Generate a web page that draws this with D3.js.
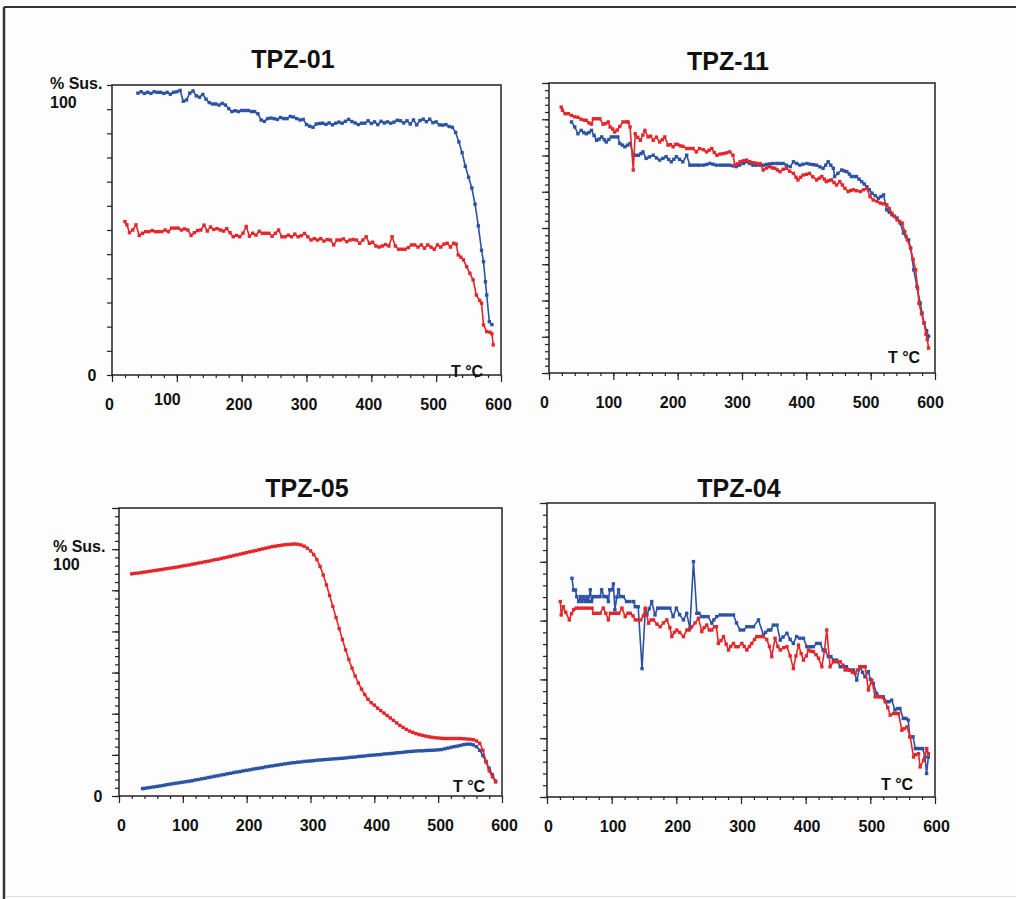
<!DOCTYPE html>
<meta charset="UTF-8">
<html>
<head>
<script src="https://d3js.org/d3.v7.min.js"></script>
<style>
  body { margin: 0; background: #fff; }
  svg text { font-family: "Liberation Sans", Arial, sans-serif; font-weight: bold; fill: #111; }
</style>
</head>
<body>
<svg id="chart" width="1016" height="899"></svg>
<script>
// ---- data: [T in °C, susceptibility] ----
var tempTicks = [0, 100, 200, 300, 400, 500, 600];
var panelTitles = ["TPZ-01", "TPZ-11", "TPZ-05", "TPZ-04"];

var tpz01Blue = [[40,104],[45,104.5],[50,103.9],[55,104.3],[60,103.9],[65,104.5],[70,104.3],[75,104.3],[80,103.9],[85,104.3],[90,103.6],[95,104.3],[100,104.5],[105,105],[110,101],[115,101.5],[120,104],[125,104.8],[130,103],[135,102.5],[140,103.5],[145,101.8],[150,100.5],[155,100],[160,100],[165,99.6],[170,100.2],[175,99.6],[180,98.3],[185,97.2],[190,97.5],[195,97.2],[200,97.6],[205,97.6],[210,97.6],[215,97.2],[220,97.2],[225,96.4],[230,94.1],[235,93.6],[240,94.6],[245,94.8],[250,94.6],[255,94.3],[260,95],[265,94.6],[270,94.6],[275,95.4],[280,95.2],[285,94.6],[290,94.1],[295,94.3],[300,92.4],[305,91.8],[310,91.4],[315,92.6],[320,92.8],[325,92.9],[330,92.5],[335,93],[340,92.3],[345,92.9],[350,93.3],[355,92.9],[360,93.6],[365,94.3],[370,93.5],[375,93],[380,92.4],[385,92.9],[390,92.9],[395,93.8],[400,92.8],[405,93.4],[410,92.4],[415,93.6],[420,93],[425,93.4],[430,92.9],[435,93.3],[440,94],[445,93.8],[450,93],[455,93.8],[460,92.6],[465,94.1],[470,92.3],[475,93.9],[480,94.4],[485,93.5],[490,94.4],[495,93.1],[500,93.4],[505,92.3],[510,92.2],[515,92.4],[520,91.7],[525,91.4],[530,89.5],[535,86],[540,82],[545,77],[550,73],[555,69],[560,63],[565,55],[570,46],[573,41.8],[576,34.4],[578,29.5],[582,19.7],[586,18.6]];
var tpz01Red = [[20,56.6],[23,55.4],[27,52.5],[32,53.5],[37,55.4],[42,51.5],[47,52.3],[52,52.9],[57,52.9],[62,53.3],[67,52.9],[72,52.9],[77,52.9],[82,53.5],[87,52.9],[92,54.2],[97,54.2],[102,54.2],[107,53.5],[112,53.9],[117,53.5],[122,51.5],[127,52.5],[132,53.3],[137,53.5],[142,55.3],[147,53.1],[152,54.6],[157,53.7],[162,54],[167,53.5],[172,53.1],[177,54],[182,52.5],[187,51],[192,51.5],[197,51],[202,52.3],[207,54.8],[212,51.2],[217,52.3],[222,51.6],[227,53],[232,52.3],[237,52.3],[242,52.3],[247,51.2],[252,52.3],[257,53.5],[262,51],[267,51],[272,51.6],[277,51],[282,52],[287,51],[292,51.4],[297,52.2],[302,51],[307,49.8],[312,50.3],[317,49.8],[322,50.3],[327,49.4],[332,50],[337,49.8],[342,48],[347,49.8],[352,49.8],[357,50.2],[362,49.2],[367,49.8],[372,50],[377,49.8],[382,48.6],[387,49.8],[392,51],[397,48.6],[402,49],[407,47.6],[412,47.2],[417,47.6],[422,48.1],[427,47.6],[432,51],[437,47.6],[442,46.4],[447,46.4],[452,46.4],[457,47],[462,48],[467,48],[472,47.2],[477,48],[482,46.8],[487,48],[492,47.2],[497,46.4],[502,48],[507,47.2],[512,48.3],[517,48.6],[522,47.2],[527,48.6],[531,48.3],[534,44.3],[538,43.5],[542,42.5],[547,40],[552,37.5],[557,35.1],[562,29.5],[567,27.5],[570,26.5],[573,18.5],[578,16],[583,15.8],[586,15.2],[588,11.1]];

var tpz11Blue = [[35,103.9],[40,101.8],[45,99],[50,100.4],[54,99.5],[58,99],[62,99.5],[66,100.4],[70,98.3],[74,96.3],[78,96.8],[82,97.7],[86,96.5],[89,95.6],[93,96.6],[97,97.7],[102,97.7],[107,97.7],[110,95],[114,94.3],[118,93.6],[122,94.3],[126,95],[131,90.1],[135,90.1],[139,90.1],[143,90.8],[146,91.5],[151,88.8],[156,89.4],[162,90.1],[167,89],[172,88.1],[177,88.8],[182,89.5],[186,88.4],[190,87.4],[194,88.4],[198,89.5],[203,88.4],[208,87.4],[214,90.1],[219,86],[224,86],[229,86],[234,86],[240,86],[245,86.3],[250,86.7],[255,86.4],[260,86],[266,86],[271,86],[276,86],[281,86],[286,85.7],[291,85.4],[296,86],[302,86.7],[307,87.4],[312,86.7],[317,86],[322,86],[328,86],[333,86],[338,86.3],[343,86.5],[348,86.7],[354,86.7],[359,86.7],[364,86.7],[369,86],[375,85.4],[380,87.4],[385,86.7],[390,86],[395,86.4],[401,86.7],[406,86.4],[411,86.2],[416,86],[421,85.3],[426,84.7],[430,86],[434,87.4],[438,86],[442,84.7],[444,81.3],[449,82.6],[455,84],[459,83.6],[463,83.3],[467,82.3],[470,81.3],[474,81.3],[478,81.3],[482,80.2],[486,79.2],[490,78.2],[494,77.1],[498,75.8],[502,74.4],[507,73.4],[512,72.3],[516,73],[520,73.7],[525,67.5],[529,66.5],[533,65.5],[537,64.8],[541,64.1],[546,62],[551,57.9],[555,56.5],[559,55.1],[562,51.7],[567,42.7],[572,35.8],[577,28.9],[580,24.8],[583,20.7],[587,17.5],[590,15.2]];
var tpz11Red = [[19,110],[21,108.7],[25,107.3],[30,107.3],[35,106.6],[40,106],[45,105.8],[50,105],[55,104.6],[58,104.5],[62,103.5],[66,103],[69,105.2],[74,105.2],[79,105.2],[84,103],[88,103.2],[92,103.9],[95,101.8],[99,101],[102,99.7],[106,100.5],[110,102],[115,103.9],[120,103.9],[123,103.9],[126,101.8],[131,84],[134,99],[138,97.5],[142,96.3],[146,98.5],[149,100.4],[154,97.7],[158,98],[162,96.3],[167,97.6],[172,95.6],[176,96.5],[180,97.7],[185,94.3],[189,94.5],[193,93.6],[197,94.6],[200,94.6],[204,94],[208,93.8],[214,92.9],[219,92.9],[224,92.9],[229,91.5],[234,92.9],[240,92.4],[245,91.5],[249,92.2],[253,92.9],[257,91.2],[261,90.1],[266,90.6],[271,90.8],[276,91.1],[281,91.5],[286,90.1],[289,86],[293,86.5],[297,87.4],[302,87.8],[307,88.1],[312,87.5],[317,87],[322,86.8],[328,86.7],[333,84],[338,84.8],[343,85.4],[347,84.9],[351,84.7],[355,84],[359,83.3],[364,84.3],[369,84.7],[374,83.5],[380,82.6],[384,81],[387,79.9],[391,81],[395,81.9],[400,82.2],[405,82.6],[410,81.2],[416,79.9],[420,80.6],[424,81.3],[428,80.2],[431,79.2],[435,79.6],[439,79.9],[443,78.8],[447,77.8],[452,79.2],[456,77.8],[460,76.4],[465,75.1],[469,75.5],[473,75.8],[478,75.4],[484,75.1],[489,75.8],[494,76.4],[499,73],[504,71.6],[510,71],[515,70.3],[520,70],[525,69.6],[529,68],[533,66.1],[537,64.8],[541,63.4],[545,62.7],[549,62],[553,58.5],[557,55.1],[562,51.7],[566,47],[570,42.7],[573,35],[575,28.9],[579,24.5],[583,20.7],[586,16],[588,13.8],[590,10.3]];

var tpz05Blue = [[37,3.0],[40,3.1],[45,3.3],[50,3.5],[55,3.7],[60,3.9],[65,4.1],[70,4.3],[75,4.6],[80,4.8],[85,5.0],[90,5.2],[95,5.4],[100,5.6],[105,5.8],[110,6.0],[115,6.2],[120,6.5],[125,6.7],[130,7.0],[135,7.2],[140,7.5],[145,7.7],[150,8.0],[155,8.2],[160,8.5],[165,8.7],[170,9.0],[175,9.2],[180,9.5],[185,9.7],[190,9.9],[195,10.2],[200,10.4],[205,10.6],[210,10.9],[215,11.1],[220,11.3],[225,11.5],[230,11.8],[235,12.0],[240,12.2],[245,12.4],[250,12.6],[255,12.8],[260,13.0],[265,13.2],[270,13.4],[275,13.5],[280,13.7],[285,13.8],[290,14.0],[295,14.1],[300,14.2],[305,14.3],[310,14.5],[315,14.6],[320,14.7],[325,14.8],[330,14.9],[335,15.0],[340,15.1],[345,15.2],[350,15.3],[355,15.4],[360,15.6],[365,15.7],[370,15.8],[375,16.0],[380,16.1],[385,16.2],[390,16.4],[395,16.5],[400,16.6],[405,16.7],[410,16.8],[415,17.0],[420,17.1],[425,17.2],[430,17.3],[435,17.5],[440,17.6],[445,17.7],[450,17.9],[455,18.0],[460,18.1],[465,18.2],[470,18.3],[475,18.3],[480,18.4],[485,18.5],[490,18.5],[495,18.6],[500,18.7],[505,18.8],[510,19.1],[515,19.4],[520,19.7],[525,20.0],[530,20.2],[535,20.5],[540,20.8],[545,21.0],[550,21.0],[555,20.7],[560,20.0],[565,18.5],[570,16.4],[575,13.8],[580,11.2],[585,8.6],[590,6.0]];
var tpz05Red = [[20,90.0],[25,90.2],[30,90.3],[35,90.5],[40,90.7],[45,90.9],[50,91.1],[55,91.3],[60,91.5],[65,91.7],[70,91.9],[75,92.1],[80,92.3],[85,92.5],[90,92.7],[95,92.9],[100,93.2],[105,93.4],[110,93.6],[115,93.9],[120,94.1],[125,94.4],[130,94.6],[135,94.9],[140,95.1],[145,95.4],[150,95.7],[155,95.9],[160,96.2],[165,96.5],[170,96.8],[175,97.1],[180,97.4],[185,97.7],[190,98.0],[195,98.3],[200,98.6],[205,98.9],[210,99.2],[215,99.5],[220,99.8],[225,100.1],[230,100.4],[235,100.7],[240,101.0],[245,101.2],[250,101.4],[255,101.6],[260,101.8],[265,101.9],[270,102.0],[275,102.1],[280,102.0],[285,101.7],[290,101.2],[295,100.4],[300,99.3],[305,97.8],[310,95.8],[315,93.0],[320,89.5],[325,85.5],[330,81.2],[335,76.8],[340,72.3],[345,67.8],[350,63.4],[355,59.2],[360,55.3],[365,51.8],[370,48.6],[375,45.8],[380,43.3],[385,41.1],[390,39.2],[395,37.8],[400,36.8],[405,35.6],[410,34.6],[415,33.6],[420,32.6],[425,31.6],[430,30.6],[435,29.6],[440,28.6],[445,27.8],[450,27.0],[455,26.3],[460,25.8],[465,25.3],[470,24.9],[475,24.6],[480,24.3],[485,24.0],[490,23.8],[495,23.6],[500,23.5],[505,23.4],[510,23.3],[515,23.3],[520,23.3],[525,23.3],[530,23.3],[535,23.3],[540,23.2],[545,23.1],[550,23.0],[555,22.8],[560,22.3],[565,21.3],[570,18.5],[575,14.0],[580,10.2],[585,7.8],[590,5.7]];

var tpz04Blue = [[38.6,93],[41,88],[44,88],[46,85.2],[49,83.1],[52,85.2],[54,83.1],[57,85.2],[59,83.1],[62,85.2],[64,83.1],[67,88.1],[69,83.1],[72,85.2],[75,85.2],[79,85.2],[82,85.2],[84.5,88.1],[88,85.2],[92,85.2],[95,83.1],[97,88.1],[100,88.1],[102.6,90.6],[105,79.6],[108,85],[110.7,88.1],[113,85.2],[118,85.2],[123,83.1],[128,83.1],[134,83.1],[136.5,80.9],[141,80.9],[147,54.6],[152,79.6],[154.5,77.4],[158,80],[162,83.1],[167,77.4],[171,80.3],[175,80.3],[180,80.3],[185,80.3],[190,80.3],[195,76.7],[200,80.3],[205,77.5],[211,75.3],[216,78.1],[221,71.7],[226.5,100.1],[231.7,78.1],[235,78.1],[239.4,76.7],[244,76.7],[249,76.7],[254.8,73.9],[258,75.3],[262.5,76.7],[267.8,77.4],[273,77.4],[278,77.4],[283,77.4],[288.4,77.4],[293,74],[298.7,71],[304,71],[309,72.4],[314,72.4],[319.2,72.4],[327,75.3],[334.7,68.9],[338,70],[342.4,71],[346,71],[350,73.1],[355.6,73.1],[360.7,66.7],[365,68],[371,69.6],[376,67],[381,65.3],[386,68.2],[391,67.5],[396.6,67.5],[401.8,63.9],[407,63.9],[412,63.9],[417,65.3],[422.3,65.3],[427,62.5],[430,62.5],[435,59.7],[439,59.7],[443,58.2],[448,58.2],[453.4,55.4],[458,55.4],[463,55.4],[468,54],[473.7,54],[479,49.7],[484,55.4],[488,53],[491.7,51.1],[497,53.3],[500,50],[504.6,48.3],[509.8,44],[515,42.6],[520,42.6],[525.3,40.5],[529,40.5],[533,41.2],[538,37],[542,37.6],[545.8,37.6],[551,33.4],[555,33.4],[558.6,32.7],[561,25.6],[566,25.6],[569.6,20.6],[573,20.6],[576.8,20.6],[581,20.6],[584.5,17],[587,10],[589.7,17]];
var tpz04Red = [[20.6,83.1],[22,77.4],[25.2,80.9],[29,78.5],[34.5,75.3],[38,78],[41.2,79.6],[45,80.3],[49,80.3],[54,80.3],[59,80.3],[64,80.3],[69.5,80.3],[72,78.1],[77,78.1],[82,78.1],[87,80.3],[91,78.1],[94.8,75.3],[98,78.1],[102.6,78.1],[107,78.1],[111,78.1],[115.9,80.3],[121,76.7],[125,78.1],[128.8,78.1],[133,77],[136.5,75.3],[141,75.3],[145,75.3],[149,77],[152,80.3],[157,73.9],[161,75.3],[164.7,75.3],[170,73.5],[175,72.4],[180,74],[185.3,75.3],[190,72],[193,68.2],[197,70],[200.7,71],[205,70],[211,68.2],[216.3,71],[220,71],[223.9,72.4],[229,74],[234.2,76],[239.4,70.3],[243,72],[247,73.1],[251,71],[254.8,71],[259,72.4],[262,72.4],[265,65.3],[269,66.5],[273,68.2],[277,65],[280.7,62.5],[284,64],[288.4,65.3],[292,63.9],[296,63.9],[301.3,65.3],[305,64],[309,62.5],[313,64],[316.6,65.3],[321,67],[324.4,68.2],[329,68.2],[334,68.2],[339.8,67],[344,64],[347.5,59.7],[352.7,67.5],[357,64],[360.7,62.5],[366,63.5],[371,63.9],[376,60],[381,54.6],[385,60],[389,64.6],[393,61],[396.6,58.2],[401,60],[404.4,62.5],[408,62],[412,61.8],[416,60.5],[420,59],[425,55.4],[429,62],[432.6,71],[437.8,55.4],[443,57.5],[448,57.5],[453.4,57.5],[458,56],[461,54],[465,54],[468.8,54],[472,53],[476.5,52.6],[480,54],[484.3,55.4],[488,55.4],[492,55.4],[497,45.5],[502.3,49.7],[507.5,42.6],[512,42.6],[517.8,42.6],[523,40.5],[527,38],[530.7,34.8],[535.8,35.5],[540,35.5],[543.6,35.5],[548.7,28.4],[552,29],[556.5,29.8],[561.7,25.6],[566.8,17],[570,18],[574.5,18.4],[577,12.8],[582.2,15.6],[587.3,20.6],[589.7,18.4]];

var blueColor = "#2c52a3";
var redColor = "#e4262b";

// ---- layout of the four panels ----
var panels = [
  { title: panelTitles[0], blue: tpz01Blue, red: tpz01Red,
    left: 112, right: 501, top: 85, bottom: 375, yMax: 107, yStep: 107 / 12, yMinor: 0,
    titleX: 293, titleY: 68, labelDx: -3, tcX: 451, tcY: 377, smooth: false,
    susLabel: { x: 50, susY: 89, hundredY: 108, zeroX: 92, zeroY: 381 } },
  { title: panelTitles[1], blue: tpz11Blue, red: tpz11Red,
    left: 549, right: 935, top: 83, bottom: 373, yMax: 120, yStep: 15, yMinor: 3,
    titleX: 728, titleY: 70, labelDx: -5, tcX: 888, tcY: 363, smooth: false },
  { title: panelTitles[2], blue: tpz05Blue, red: tpz05Red,
    left: 119, right: 502, top: 508, bottom: 796, yMax: 700 / 6, yStep: 100 / 6, yMinor: 100 / 30,
    titleX: 307, titleY: 497, labelDx: 2, tcX: 453, tcY: 792, smooth: true,
    susLabel: { x: 53, susY: 552, hundredY: 570, zeroX: 98, zeroY: 802 } },
  { title: panelTitles[3], blue: tpz04Blue, red: tpz04Red,
    left: 547, right: 935, top: 503, bottom: 797, yMax: 125, yStep: 25, yMinor: 5,
    titleX: 739, titleY: 497, labelDx: 1, tcX: 881, tcY: 790, smooth: false }
];

var svg = d3.select("#chart");

svg.append("rect").attr("width", 1016).attr("height", 899).attr("fill", "#fdfdfd");
// outer figure frame
svg.append("line").attr("x1", 4).attr("x2", 1016).attr("y1", 7).attr("y2", 7)
  .attr("stroke", "#333").attr("stroke-width", 2);
svg.append("line").attr("x1", 4).attr("x2", 4).attr("y1", 7).attr("y2", 899)
  .attr("stroke", "#333").attr("stroke-width", 2.5);
svg.append("line").attr("x1", 5).attr("x2", 1016).attr("y1", 896.5).attr("y2", 896.5)
  .attr("stroke", "#ddd").attr("stroke-width", 1);

panels.forEach(function (p, idx) {
  var g = svg.append("g");
  var x = d3.scaleLinear().domain([0, 600]).range([p.left, p.right]);
  var y = d3.scaleLinear().domain([0, p.yMax]).range([p.bottom, p.top]);

  // y ticks (major + minor)
  var majors = d3.range(0, p.yMax + 1e-6, p.yStep);
  g.append("g").attr("transform", "translate(" + p.left + ",0)")
    .call(d3.axisLeft(y).tickValues(majors).tickSize(p.yMinor ? 7 : 5).tickFormat(""))
    .call(function (a) { a.select(".domain").remove(); });
  if (p.yMinor) {
    var minors = d3.range(0, p.yMax + 1e-6, p.yMinor);
    g.append("g").attr("transform", "translate(" + p.left + ",0)")
      .call(d3.axisLeft(y).tickValues(minors).tickSize(4).tickFormat(""))
      .call(function (a) { a.select(".domain").remove(); });
  }

  // x minor ticks every 20, major + labels every 100
  g.append("g").attr("transform", "translate(0," + p.bottom + ")")
    .call(d3.axisBottom(x).tickValues(d3.range(0, 601, 20)).tickSize(3).tickFormat(""))
    .call(function (a) { a.select(".domain").remove(); });
  var xa = g.append("g").attr("transform", "translate(0," + p.bottom + ")")
    .call(d3.axisBottom(x).tickValues(tempTicks).tickSize(7).tickPadding(17).tickFormat(d3.format("d")));
  xa.select(".domain").remove();
  xa.attr("font-size", 16).attr("font-family", null);
  xa.selectAll("text").attr("dx", p.labelDx).attr("fill", "#111");
  if (idx === 0) {
    // the "100" label sits a little up and left in the original
    xa.selectAll("text").filter(function (d) { return d === 100; })
      .attr("dx", -10).attr("dy", "0.4em");
  }
  g.selectAll(".tick line").attr("stroke", "#222").attr("stroke-width", 1.2);

  // plot frame
  g.append("rect").attr("x", p.left).attr("y", p.top)
    .attr("width", p.right - p.left).attr("height", p.bottom - p.top)
    .attr("fill", "none").attr("stroke", "#222").attr("stroke-width", 1.5);

  // series
  var line = d3.line().x(function (d) { return x(d[0]); }).y(function (d) { return y(d[1]); });
  if (p.smooth) line.curve(d3.curveMonotoneX);
  [[p.blue, blueColor], [p.red, redColor]].forEach(function (s) {
    g.append("path").datum(s[0]).attr("d", line)
      .attr("fill", "none").attr("stroke", s[1]).attr("stroke-width", 1.6)
      .attr("stroke-linejoin", "round");
    g.append("g").selectAll("rect").data(s[0]).enter().append("rect")
      .attr("x", function (d) { return x(d[0]) - 1.7; })
      .attr("y", function (d) { return y(d[1]) - 1.7; })
      .attr("width", 3.4).attr("height", 3.4)
      .attr("fill", s[1]);
  });

  // title
  g.append("text").attr("x", p.titleX).attr("y", p.titleY)
    .attr("text-anchor", "middle").attr("font-size", 25).text(p.title);

  // T °C
  g.append("text").attr("x", p.tcX).attr("y", p.tcY)
    .attr("font-size", 16).text("T °C");

  // % Sus. labels
  if (p.susLabel) {
    var s = p.susLabel;
    g.append("text").attr("x", s.x).attr("y", s.susY).attr("font-size", 16).text("% Sus.");
    g.append("text").attr("x", s.x).attr("y", s.hundredY).attr("font-size", 16).text("100");
    g.append("text").attr("x", s.zeroX).attr("y", s.zeroY)
      .attr("text-anchor", "middle").attr("font-size", 16).text("0");
  }
});
</script>
</body>
</html>
